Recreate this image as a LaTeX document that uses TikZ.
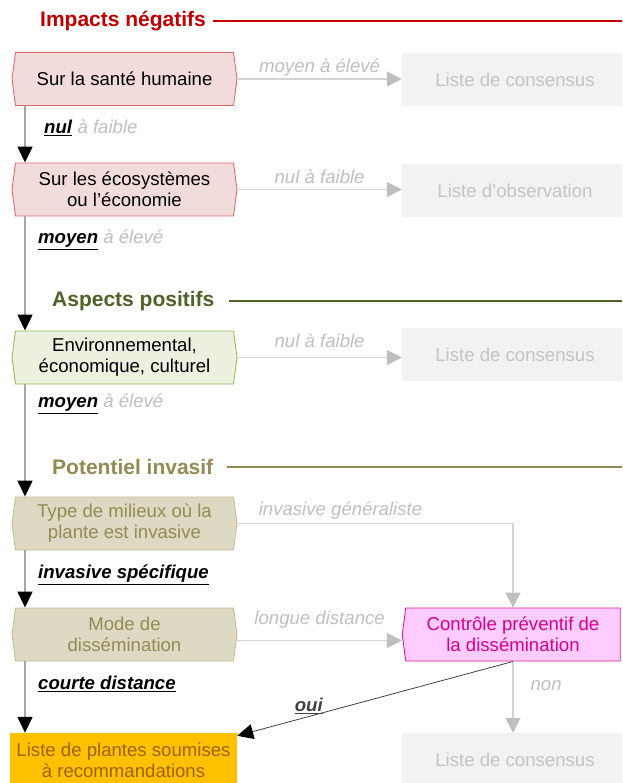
\documentclass[tikz,border=0pt]{standalone}
\usepackage{fontspec}
\setmainfont{Liberation Sans}
\usetikzlibrary{arrows.meta,shapes.symbols}

\definecolor{negred}{HTML}{C00000}
\definecolor{posgreen}{HTML}{4F6228}
\definecolor{involive}{HTML}{948A54}
\definecolor{negfill}{HTML}{F2DCDB}
\definecolor{negline}{HTML}{E06A6A}
\definecolor{posfill}{HTML}{EBF1DE}
\definecolor{posline}{HTML}{9BBB59}
\definecolor{invfill}{HTML}{DDD9C3}
\definecolor{invline}{HTML}{C4BD97}
\definecolor{ctlfill}{HTML}{FFCCFF}
\definecolor{ctlline}{HTML}{E6189E}
\definecolor{ctltext}{HTML}{D80090}
\definecolor{finfill}{HTML}{FFC000}
\definecolor{fintext}{HTML}{9C6500}
\definecolor{listfill}{HTML}{F2F2F2}
\definecolor{listtext}{HTML}{C4C4C4}
\definecolor{labgray}{HTML}{BFBFBF}
\definecolor{sideline}{HTML}{D4D4D4}
\definecolor{spinegray}{HTML}{A6A6A6}

\newcommand{\yesword}[1]{\underline{\textbf{\textit{#1}}}}
\newcommand{\noword}[1]{\textcolor{labgray}{\textit{#1}}}

\begin{document}
\begin{tikzpicture}[x=1pt,y=-1pt,
  txt/.style={font=\fontsize{18.6}{21}\selectfont},
  headline/.style={anchor=west,inner sep=0pt,font=\fontsize{21}{25}\selectfont\bfseries},
  stepbox/.style={txt,shape=signal,signal to=west and east,signal pointer angle=165,
    minimum width=225pt,minimum height=53pt,inner sep=0pt,align=center,line width=0.9pt},
  negbox/.style={stepbox,draw=negline,fill=negfill},
  posbox/.style={stepbox,draw=posline,fill=posfill},
  invbox/.style={stepbox,draw=invline,fill=invfill,text=involive},
  listbox/.style={txt,fill=listfill,text=listtext,minimum width=226pt,minimum height=53pt},
  downarrow/.style={draw=spinegray,line width=1.5pt,-{Triangle[length=16pt,width=15pt,color=black]}},
  sidearrow/.style={draw=sideline,line width=1.2pt,-{Triangle[length=15pt,width=15pt,color=labgray]}},
  sidelab/.style={font=\fontsize{18.6}{21}\selectfont\itshape,text=labgray,inner sep=1pt,text depth=4pt},
  yeslab/.style={txt,anchor=west,inner sep=0pt}
]
\useasboundingbox (0,0) rectangle (622,783);
\clip (0,0) rectangle (622,783);
\coordinate (spine) at (25,0);
\coordinate (rim) at (622,0);

% headings
\node[headline,text=negred] (head1) at (40,21) {Impacts négatifs};
\draw[negred,line width=2pt] ([xshift=7pt]head1.east) -- (head1.east -| rim);
\node[headline,text=posgreen] (head2) at (52,301) {Aspects positifs};
\draw[posgreen,line width=2pt] ([xshift=14pt]head2.east) -- (head2.east -| rim);
\node[headline,text=involive] (head3) at (52,467) {Potentiel invasif};
\draw[involive,line width=2pt] ([xshift=14pt]head3.east) -- (head3.east -| rim);

% criteria
\node[negbox] (box1) at (124.5,79) {Sur la santé humaine};
\node[negbox] (box2) at (124.5,189.5) {Sur les écosystèmes\\ou l’économie};
\node[posbox] (box3) at (124.5,357.5) {Environnemental,\\économique, culturel};
\node[invbox] (box4) at (124.5,523.5) {Type de milieux où la\\plante est invasive};
\node[invbox] (box5) at (124.5,634.5) {Mode de\\dissémination};
\node[txt,shape=signal,signal to=west,signal pointer angle=165,draw=ctlline,fill=ctlfill,
  text=ctltext,minimum width=218pt,minimum height=53pt,inner sep=0pt,align=center,
  line width=0.9pt] (ctl) at (513,634.5) {Contrôle préventif de\\la dissémination};
\node[txt,fill=finfill,text=fintext,minimum width=227pt,minimum height=54pt,align=center]
  (fin) at (123.5,760) {Liste de plantes soumises\\à recommandations};

% lists
\node[listbox] (list1) at (515,79.5) {Liste de consensus};
\node[listbox] (list2) at (515,190.5) {Liste d’observation};
\node[listbox] (list3) at (515,354.5) {Liste de consensus};
\node[listbox] (list4) at (515,759.5) {Liste de consensus};

% main path
\draw[downarrow] (box1.south -| spine) -- (box2.north -| spine);
\draw[downarrow] (box2.south -| spine) -- (box3.north -| spine);
\draw[downarrow] (box3.south -| spine) -- (box4.north -| spine);
\draw[downarrow] (box4.south -| spine) -- (box5.north -| spine);
\draw[downarrow] (box5.south -| spine) -- (fin.north -| spine);
\node[yeslab] (v1) at (44,128) {\yesword{nul} \noword{à faible}};
\node[yeslab] (v2) at (38,240) {\yesword{moyen} \noword{à élevé}};
\node[yeslab] (v3) at (38,404) {\yesword{moyen} \noword{à élevé}};
\node[yeslab] (v4) at (38,575) {\yesword{invasive spécifique}};
\node[yeslab] (v5) at (38,684) {\yesword{courte distance}};

% side exits
\draw[sidearrow] (box1.east) -- (box1.east -| list1.west)
  node[sidelab,midway,above=1pt] (h1) {moyen à élevé};
\draw[sidearrow] (box2.east) -- (box2.east -| list2.west)
  node[sidelab,midway,above=0pt] (h2) {nul à faible};
\draw[sidearrow] (box3.east) -- (box3.east -| list3.west)
  node[sidelab,midway,above=4pt] (h3) {nul à faible};
\draw[sidearrow] (box4.east) -| (ctl.north)
  node[sidelab,pos=0.187,above=2pt] (h4) {invasive généraliste};
\draw[sidearrow] ([yshift=-6pt]box5.east) -- ([yshift=-6pt]box5.east -| ctl.west)
  node[sidelab,midway,above=10pt] (h5) {longue distance};
\draw[sidearrow] (ctl.south) -- (ctl.south |- list4.north)
  node[sidelab,pos=0.36,right=16pt] (h6) {non};
\draw[black!75,line width=0.8pt,-{Triangle[length=16pt,width=15pt,color=black]}]
  (ctl.south) -- ([yshift=-3pt]fin.north east)
  node[txt,pos=0.74,anchor=south,yshift=2pt,inner sep=0pt] (h7) {\yesword{oui}};
\end{tikzpicture}
\end{document}
